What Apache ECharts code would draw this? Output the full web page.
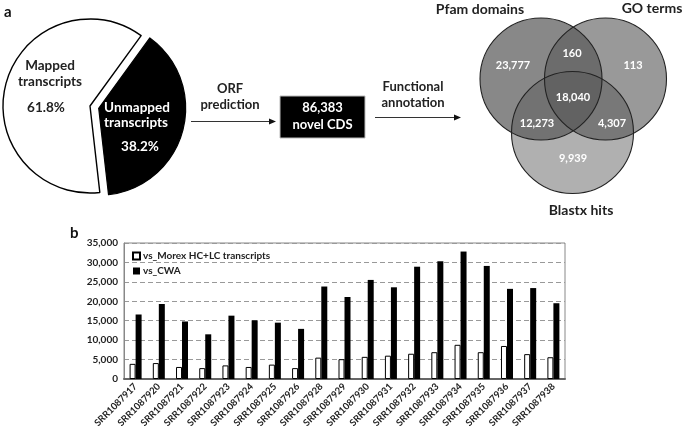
<!DOCTYPE html>
<html>
<head>
<meta charset="utf-8">
<script src="https://cdn.jsdelivr.net/npm/echarts@6/dist/echarts.min.js"></script>
<style>
html,body{margin:0;padding:0;background:#fff;}
#chart{width:685px;height:431px;}
</style>
</head>
<body>
<div id="chart"></div>
<script>
// ---- data ----
const categories = ['SRR1087917','SRR1087920','SRR1087921','SRR1087922','SRR1087923','SRR1087924','SRR1087925','SRR1087926','SRR1087928','SRR1087929','SRR1087930','SRR1087931','SRR1087932','SRR1087933','SRR1087934','SRR1087935','SRR1087936','SRR1087937','SRR1087938'];
const seriesNames = ['vs_Morex HC+LC transcripts', 'vs_CWA'];
const morexValues = [3900,4100,3100,2800,3500,3100,3700,2800,5500,5100,5700,6000,6500,6900,8800,6900,8500,6400,5600];
const cwaValues = [16600,19300,14800,11500,16300,15100,14500,12900,23800,21100,25500,23600,28900,30300,32800,29100,23200,23400,19500];
const yTicks = [0,5000,10000,15000,20000,25000,30000,35000];

const pieNames = ['Unmapped transcripts', 'Mapped transcripts'];
const pieValues = [38.2, 61.8];

const flowLabels = ['ORF\nprediction', 'Functional\nannotation'];
const cdsCount = 86383;
const cdsName = 'novel CDS';

const vennSets = ['Pfam domains', 'GO terms', 'Blastx hits'];
// regions: Pfam only, Pfam∩GO, GO only, all three, Pfam∩Blastx, GO∩Blastx, Blastx only
const vennRegionValues = [23777, 160, 113, 18040, 12273, 4307, 9939];
const panelLetters = ['a', 'b'];

// ---- helpers ----
const FONT = 'Lato, "Open Sans", "DejaVu Sans", sans-serif';
const TXT = '#222';
const fmt = v => v.toLocaleString('en-US');

const chart = echarts.init(document.getElementById('chart'), null, {renderer: 'canvas'});

// pie label line positions (layout only): [word1, word2, percent]
const pieLabelPos = [
  [[137, 108], [136, 123], [140, 147]],
  [[50, 66], [50, 82], [46, 108]]
];
const pieLabelColor = ['#fff', '#222'];

// Venn geometry (layout only)
const vennCircles = [
  {cx: 541, cy: 79, r: 61, fill: 'rgba(90,90,90,0.72)'},    // Pfam
  {cx: 605.5, cy: 79, r: 61, fill: 'rgba(79,79,79,0.58)'},  // GO
  {cx: 572.5, cy: 132.5, r: 61, fill: '#b0b0b0'}            // Blastx
];
const vennTitlePos = [[480, 9], [652, 8], [581, 210]];
const vennRegionPos = [[513, 65], [572, 53], [633, 65], [573, 97], [537, 123], [612, 123], [573, 158]];

const graphics = [];
// panel letters
graphics.push({type: 'text', left: 4, top: 5, style: {text: panelLetters[0], font: 'bold 15px ' + FONT, fill: '#111'}});
graphics.push({type: 'text', left: 70, top: 226, style: {text: panelLetters[1], font: 'bold 15px ' + FONT, fill: '#111'}});

// pie labels
pieNames.forEach((name, i) => {
  const words = name.split(' ');
  const lines = [words[0], words[1], pieValues[i].toFixed(1) + '%'];
  lines.forEach((t, j) => {
    graphics.push({type: 'text', x: pieLabelPos[i][j][0], y: pieLabelPos[i][j][1], z: 10,
      style: {text: t, font: 'bold 13.5px ' + FONT, fill: pieLabelColor[i], textAlign: 'center', textVerticalAlign: 'middle'}});
  });
});

// arrows
function arrow(x1, x2, y) {
  graphics.push({type: 'line', shape: {x1: x1, y1: y, x2: x2 - 6, y2: y}, style: {stroke: '#333', lineWidth: 1}});
  graphics.push({type: 'polygon', shape: {points: [[x2 - 7, y - 3], [x2, y], [x2 - 7, y + 3]]}, style: {fill: '#111'}});
}
arrow(191, 276, 121.5);
arrow(375, 461, 117.5);

// flow labels
graphics.push({type: 'text', x: 230, y: 97, style: {text: flowLabels[0], font: 'bold 13px ' + FONT, fill: TXT, textAlign: 'center', textVerticalAlign: 'middle', lineHeight: 15.5}});
graphics.push({type: 'text', x: 413, y: 95, style: {text: flowLabels[1], font: 'bold 13px ' + FONT, fill: TXT, textAlign: 'center', textVerticalAlign: 'middle', lineHeight: 16}});

// CDS box
graphics.push({type: 'rect', shape: {x: 280, y: 96, width: 85, height: 42}, style: {fill: '#000', stroke: '#bbb', lineWidth: 1}});
graphics.push({type: 'text', x: 322.5, y: 116.5, style: {text: fmt(cdsCount) + '\n' + cdsName, font: 'bold 13px ' + FONT, fill: '#fff', textAlign: 'center', textVerticalAlign: 'middle', lineHeight: 16.5}});

// Venn: Blastx bottom, then GO, then Pfam
[2, 1, 0].forEach(i => {
  const c = vennCircles[i];
  graphics.push({type: 'circle', shape: {cx: c.cx, cy: c.cy, r: c.r}, style: {fill: c.fill}});
});
[0, 1, 2].forEach(i => {
  const c = vennCircles[i];
  graphics.push({type: 'circle', shape: {cx: c.cx, cy: c.cy, r: c.r}, style: {fill: 'none', stroke: '#222', lineWidth: 1.1}});
});
vennSets.forEach((s, i) => {
  graphics.push({type: 'text', x: vennTitlePos[i][0], y: vennTitlePos[i][1], style: {text: s, font: 'bold 14px ' + FONT, fill: TXT, textAlign: 'center', textVerticalAlign: 'middle'}});
});
vennRegionValues.forEach((v, i) => {
  graphics.push({type: 'text', x: vennRegionPos[i][0], y: vennRegionPos[i][1], style: {text: fmt(v), font: 'bold 11px ' + FONT, fill: '#fff', textAlign: 'center', textVerticalAlign: 'middle'}});
});

const option = {
  backgroundColor: '#fff',
  animation: false,
  textStyle: {fontFamily: FONT},
  grid: {left: 124, right: 120, top: 243, bottom: 52, show: true, borderColor: '#888', borderWidth: 1, backgroundColor: 'transparent'},
  legend: {
    orient: 'vertical', left: 132, top: 251, itemWidth: 7, itemHeight: 7, itemGap: 5, padding: 0,
    icon: 'rect',
    textStyle: {fontFamily: FONT, fontWeight: 'bold', fontSize: 10, color: TXT, padding: [0, 0, 0, -2]},
    data: seriesNames
  },
  xAxis: {
    type: 'category', data: categories,
    axisLine: {lineStyle: {color: '#666', width: 2}},
    axisTick: {show: false},
    axisLabel: {interval: 0, rotate: 45, fontFamily: FONT, fontWeight: 'bold', fontSize: 9.5, color: TXT, margin: 6}
  },
  yAxis: {
    type: 'value', min: yTicks[0], max: yTicks[yTicks.length - 1], interval: yTicks[1] - yTicks[0],
    axisLine: {show: true, lineStyle: {color: '#888', width: 1}},
    axisTick: {show: false},
    axisLabel: {fontFamily: FONT, fontWeight: 'bold', fontSize: 10, color: TXT, margin: 6, formatter: v => fmt(v)},
    splitLine: {show: true, lineStyle: {color: '#999', type: [5, 3], width: 1}}
  },
  series: [
    {
      name: seriesNames[0], type: 'bar', data: morexValues, barWidth: 6, barGap: '0%',
      itemStyle: {color: '#fff', borderColor: '#000', borderWidth: 1}
    },
    {
      name: seriesNames[1], type: 'bar', data: cwaValues, barWidth: 6, barGap: '0%',
      itemStyle: {color: '#000'}
    },
    {
      type: 'pie', center: [90, 106], radius: 87, startAngle: 54, clockwise: true,
      selectedMode: 'multiple', selectedOffset: 9,
      data: [
        {name: pieNames[0], value: pieValues[0], selected: true, itemStyle: {color: '#000', borderColor: '#000', borderWidth: 1.2}},
        {name: pieNames[1], value: pieValues[1], itemStyle: {color: '#fff', borderColor: '#000', borderWidth: 1.4}}
      ],
      label: {show: false},
      labelLine: {show: false},
      emphasis: {disabled: true},
      silent: true
    }
  ],
  graphic: graphics
};
chart.setOption(option);
</script>
</body>
</html>
